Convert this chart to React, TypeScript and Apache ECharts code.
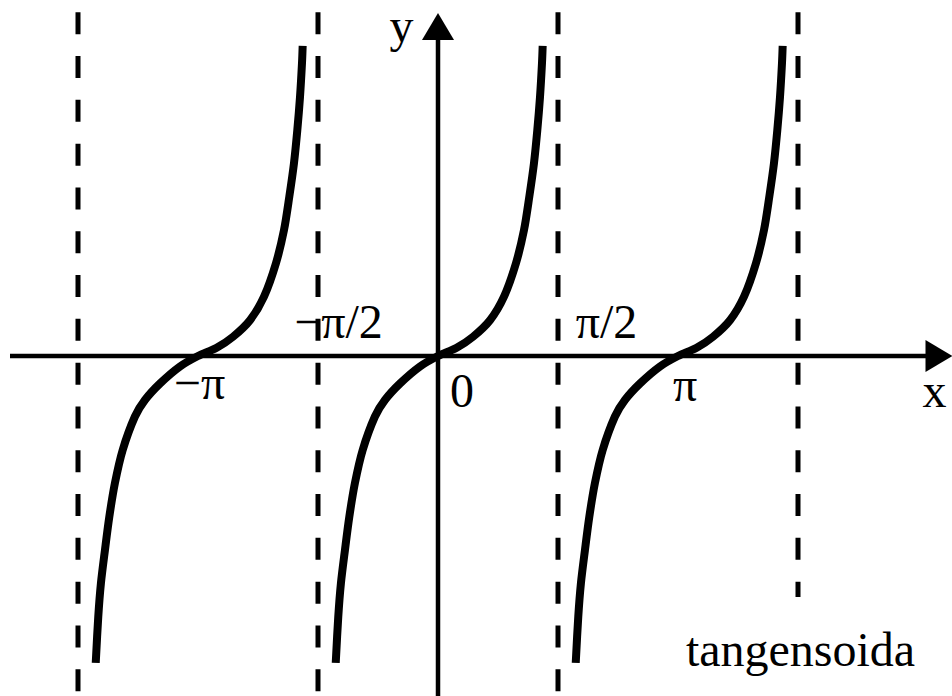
import React, { useEffect, useRef } from "react";
import * as echarts from "echarts";

// x in degrees (180 = π), y in tangent units
const branchLeftX = [-256.7, -254.8, -252.8, -249.8, -246.5, -242.3, -236.5, -227.3, -219.8, -208.5, -193.5, -180, -166, -153.7, -141, -130.5, -121.5, -115.5, -111.5, -108, -105.5, -103.5, -102, -101.5];
const branchMidX = [-76.7, -74.8, -72.8, -69.8, -66.5, -62.3, -56.5, -47.3, -39.8, -28.5, -13.5, 0, 14.0, 26.3, 39.0, 49.5, 58.5, 64.5, 68.5, 72.0, 74.5, 76.5, 78.0, 78.5];
const branchRightX = [103.3, 105.2, 107.2, 110.2, 113.5, 117.7, 123.5, 132.7, 140.2, 151.5, 166.5, 180, 194, 206.3, 219, 229.5, 238.5, 244.5, 248.5, 252, 254.5, 256.5, 258, 258.5];
const branchY = [-5.58, -4.74, -4.13, -3.53, -2.92, -2.31, -1.71, -1.10, -0.80, -0.50, -0.19, 0, 0.15, 0.35, 0.65, 1.08, 1.69, 2.29, 2.90, 3.51, 4.11, 4.71, 5.33, 5.64];

// asymptotes: x, top y, bottom y
const asymptoteX = [-270, -90, 90, 270];
const asymptoteTop = [6.25, 6.25, 6.25, 6.25];
const asymptoteBottom = [-6.18, -6.18, -6.18, -4.38];

// axes
const xAxisLine = [[-321, 0], [366, 0]];
const yAxisLine = [[0, -6.18], [0, 5.75]];
const xArrow = [375.75, 0];
const yArrow = [0, 5.99];

const labelTexts = ["y", "−π/2", "π/2", "−π", "π", "0", "x", "tangensoida"];
const labelX = [-27.4, -74.6, 126.4, -178.9, 185.25, 18, 372.4, 271.9];
const labelY = [6.0, 0.624, 0.624, -0.49, -0.51, -0.62, -0.636, -5.33];

const X_MIN = -328.5;
const X_MAX = 385.5;
const Y_MIN = -6.1818;
const Y_MAX = 6.4727;

export default function App() {
  const ref = useRef<HTMLDivElement>(null);
  useEffect(() => {
    if (!ref.current) return;
    const chart = echarts.init(ref.current, undefined, { renderer: "svg" });
    const font = "'Liberation Serif', 'Times New Roman', serif";
    const series: any[] = [];
    asymptoteX.forEach((x, i) => {
      series.push({
        type: "line",
        data: [[x, asymptoteTop[i]], [x, asymptoteBottom[i]]],
        showSymbol: false,
        symbol: "none",
        lineStyle: { color: "#000", width: 5, type: [22, 21.8], cap: "butt", opacity: 1 },
        z: 1,
      });
    });
    [xAxisLine, yAxisLine].forEach((d) => {
      series.push({
        type: "line",
        data: d,
        symbol: "none",
        lineStyle: { color: "#000", width: 4.5, opacity: 1 },
        z: 2,
      });
    });
    series.push({
      type: "scatter",
      data: [
        { value: xArrow, symbolRotate: -90 },
        { value: yArrow, symbolRotate: 0 },
      ],
      symbol: "triangle",
      symbolSize: [32, 27],
      itemStyle: { color: "#000", opacity: 1 },
      z: 2,
    });
    [branchLeftX, branchMidX, branchRightX].forEach((xs) => {
      series.push({
        type: "line",
        data: xs.map((x, i) => [x, branchY[i]]),
        symbol: "none",
        smooth: 0.3,
        lineStyle: { color: "#000", width: 8, opacity: 1 },
        z: 3,
      });
    });
    series.push({
      type: "scatter",
      data: labelTexts.map((t, i) => ({ value: [labelX[i], labelY[i]], name: t })),
      symbolSize: 1,
      itemStyle: { color: "rgba(0,0,0,0)", opacity: 1 },
      label: {
        show: true,
        position: "inside",
        formatter: (p: any) => p.name,
        fontFamily: font,
        fontSize: 48,
        color: "#000",
        opacity: 1,
        align: "center",
        verticalAlign: "middle",
      },
      z: 4,
    });
    chart.setOption({
      animation: false,
      backgroundColor: "#fff",
      grid: { left: 0, right: 0, top: 0, bottom: 0, containLabel: false },
      xAxis: { type: "value", min: X_MIN, max: X_MAX, show: false },
      yAxis: { type: "value", min: Y_MIN, max: Y_MAX, show: false },
      series,
    });
    return () => chart.dispose();
  }, []);
  return (
    <div
      ref={ref}
      style={{ position: "fixed", left: 0, top: 0, width: 952, height: 696, background: "#fff" }}
    />
  );
}
